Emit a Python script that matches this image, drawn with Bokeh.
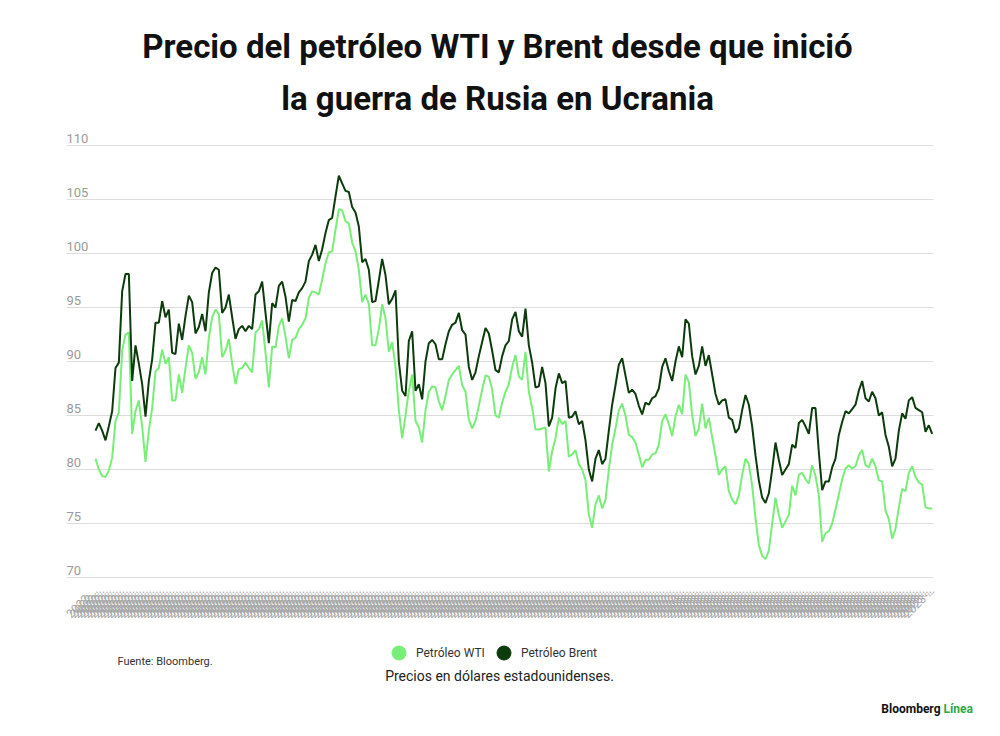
from math import pi

from bokeh.plotting import figure
from bokeh.models import Range1d, Label, Legend, LegendItem
from bokeh.core.properties import value
from bokeh.embed import file_html
from bokeh.resources import INLINE

# precios diarios (USD por barril)
brent = [83.6, 84.3, 83.6, 82.7, 84.0, 85.4, 89.4, 89.9, 96.5, 98.1, 98.1, 88.2, 91.5, 89.8, 87.9,
         84.9, 88.2, 90.2, 93.6, 93.6, 95.6, 94.1, 94.8, 90.8, 90.7, 93.5, 92.0, 94.2, 96.1, 95.5,
         92.6, 93.2, 94.4, 92.8, 96.4, 98.2, 98.7, 98.5, 94.5, 95.0, 96.2, 94.1, 92.1,
         93.0, 93.3, 92.8, 93.3, 93.0, 96.2, 96.5, 97.4, 94.5, 91.7, 95.4, 95.0, 97.0, 97.4, 96.0,
         93.7, 95.7, 95.6, 96.4, 96.8, 97.4, 99.3, 99.9, 100.8, 99.3, 100.4, 101.9, 103.1, 103.3,
         105.3, 107.2,
         106.5, 105.8, 105.7, 104.3, 103.8, 102.5, 99.2, 99.5, 98.5, 95.5, 95.6, 97.5, 99.5, 98.0,
         95.3, 95.8, 96.6, 90.0, 87.3, 86.8, 91.9, 92.8, 87.3, 87.9, 86.5, 90.0, 91.7, 92.0, 91.6,
         90.2, 90.2, 91.6, 92.8, 93.4, 93.6, 94.5, 92.9, 92.5, 89.5, 88.3, 89.0, 90.5, 91.8, 93.1,
         92.6, 91.0, 89.2, 89.0, 90.5, 91.5, 91.9, 93.9, 94.6,
         92.8, 92.3, 94.9, 91.5, 89.9, 87.6, 87.7, 89.5, 88.0, 84.0, 84.8, 87.5, 88.9, 88.0, 88.2,
         84.8, 84.9, 85.4, 84.2, 84.5, 82.7, 80.0, 78.9, 81.0, 81.8, 80.5, 81.0, 83.6, 86.0, 87.8,
         89.7, 90.3, 88.7, 87.1, 87.4, 87.0, 85.9, 85.1, 86.2, 86.0,
         86.6, 86.8, 87.5, 89.5, 90.3, 89.1, 88.2, 90.0, 91.4, 90.4, 93.9, 93.5, 90.5, 88.8, 89.6,
         91.4, 89.6, 90.6, 88.8, 87.0, 86.0, 86.4, 86.5, 84.8, 84.6, 83.4, 83.8, 85.5, 86.9, 86.0,
         84.0, 81.3, 79.0, 77.4, 76.9, 77.8, 80.0, 82.5, 80.9, 79.5, 80.0, 80.5,
         82.3, 82.0, 84.3, 84.6, 84.0, 83.3, 85.7, 85.7, 81.6, 78.1, 78.9, 78.9, 80.2, 81.0, 83.2,
         84.4, 85.4, 85.2, 85.6, 86.0, 87.3, 88.2, 86.6, 86.3, 87.2, 86.6, 85.0, 85.3, 83.2, 82.1,
         80.3, 81.0, 83.6, 85.2, 84.7, 86.4, 86.7, 85.7, 85.5, 85.3, 83.5, 84.1, 83.3]

wti = [81.0, 80.0, 79.4, 79.3, 79.9, 81.1, 84.5, 85.3, 91.0, 92.5, 92.7, 83.3, 85.4, 86.4, 84.0,
       80.7, 83.6, 85.7, 89.1, 89.4, 91.1, 89.8, 90.4, 86.4, 86.4, 88.8, 87.1, 89.4, 91.5, 90.8,
       88.4, 89.0, 90.4, 88.8, 92.2, 94.1, 94.8, 94.4, 90.4, 91.0, 92.1, 89.8, 87.9,
       89.3, 89.4, 89.9, 89.4, 89.0, 92.7, 93.0, 93.8, 90.8, 87.6, 91.4, 91.3, 93.3, 94.0, 92.3,
       90.3, 92.0, 92.2, 93.0, 93.4, 94.0, 95.9, 96.5, 96.4, 96.2, 97.6, 99.1, 100.1, 100.2,
       102.2, 104.1,
       104.0, 103.0, 102.8, 101.0, 100.2, 98.5, 95.5, 96.2, 95.3, 91.5, 91.5, 93.0, 95.3, 94.0,
       90.9, 91.8, 89.5, 85.5, 82.9, 85.0, 87.3, 88.8, 84.5, 83.9, 82.5, 85.5, 87.2, 87.7, 87.6,
       86.3, 85.5, 86.8, 88.3, 88.8, 89.2, 89.6, 87.8, 87.2, 84.6, 83.8, 84.5, 85.9, 87.4, 88.7,
       88.6, 87.4, 85.0, 84.8, 86.2, 87.2, 87.9, 89.5, 90.6,
       88.6, 88.3, 90.9, 87.2, 85.7, 83.7, 83.7, 83.8, 83.9, 79.8, 81.7, 82.9, 84.8, 84.2, 84.5,
       81.2, 81.4, 81.8, 80.5, 80.0, 79.0, 75.8, 74.6, 76.8, 77.6, 76.4, 77.2, 80.0, 82.3, 83.8,
       85.5, 86.1, 85.0, 83.2, 83.0, 82.5, 81.4, 80.2, 80.9, 80.9,
       81.4, 81.5, 82.3, 84.5, 85.1, 84.2, 83.1, 84.9, 86.0, 85.1, 88.8, 88.1, 85.0, 83.1, 83.8,
       86.1, 83.8, 84.8, 83.0, 81.3, 79.5, 80.0, 80.3, 78.0, 77.2, 76.8, 77.6, 79.5, 81.0, 80.5,
       78.5, 75.5, 73.0, 72.0, 71.7, 72.5, 75.0, 77.4, 75.8, 74.6, 75.2, 75.8,
       78.5, 77.6, 79.5, 79.7, 79.1, 78.7, 80.4, 79.4, 77.6, 73.3, 74.1, 74.3, 75.0, 76.3, 77.7,
       79.1, 80.1, 80.4, 80.1, 80.3, 81.3, 81.8, 80.4, 80.2, 81.0, 80.3, 79.0, 78.9, 76.2, 75.4,
       73.6, 74.5, 76.5, 78.2, 78.0, 79.7, 80.3, 79.3, 78.8, 78.6, 76.5, 76.4, 76.4]

# etiquetas del eje x (fechas truncadas)
x_labels = ["2022-…"] * 177 + ["2023-…"] * 75
y_ticks = [70, 75, 80, 85, 90, 95, 100, 105, 110]
y_labels = [str(t) for t in y_ticks]

n = len(brent)
days = list(range(n))

W, H = 984, 720
# el area de dibujo cubre todo el lienzo; la zona del grafico va de x=66 a x=933 px
grid_left, grid_right = -8.7, n - 1 + 0.4
label_y = 68.95  # altura de las etiquetas de fecha, debajo de la linea de 70

p = figure(width=W, height=H, output_backend="svg", toolbar_location=None, tools="",
           x_range=Range1d(-28.5, 266.7), y_range=Range1d(56.76, 123.43),
           x_axis_location=None, y_axis_location=None, min_border=0)
p.outline_line_color = None
p.grid.visible = False

# lineas horizontales de la grilla
p.segment(x0=[grid_left] * len(y_ticks), y0=y_ticks, x1=[grid_right] * len(y_ticks), y1=y_ticks,
          line_color="#dcdcdc", line_width=1)

# etiquetas del eje y, encima de cada linea
p.text(x=[grid_left] * len(y_ticks), y=y_ticks, text=y_labels, text_font=value("Roboto"),
       text_font_size="13px", text_color="#9b9b9b", text_align="left", text_baseline="bottom",
       y_offset=-3)

# etiquetas del eje x, una por dia, giradas
p.text(x=days, y=[label_y] * n, text=x_labels, text_font=value("Roboto"),
       text_font_size="12px", text_color="#a6a6a6", text_align="right", text_baseline="middle",
       angle=pi / 4)

wti_color = "#78ee78"
brent_color = "#0c3b0c"
p.line(days, wti, line_color=wti_color, line_width=2)
p.line(days, brent, line_color=brent_color, line_width=2)

# leyenda con circulos (marcadores sin punto visible, solo para la leyenda)
nan = float("nan")
r_wti = p.scatter([nan], [nan], marker="circle", size=14, color=wti_color)
r_brent = p.scatter([nan], [nan], marker="circle", size=14, color=brent_color)
for r, name, loc in [(r_wti, "Petróleo WTI", (381, 50)), (r_brent, "Petróleo Brent", (486, 50))]:
    leg = Legend(items=[LegendItem(label=name, renderers=[r], index=0)], location=loc,
                 glyph_width=35, glyph_height=35, label_standoff=0, padding=0, margin=0,
                 border_line_color=None, background_fill_alpha=0,
                 label_text_font="Roboto", label_text_font_size="12px", label_text_color="#333333")
    p.add_layout(leg)


def add_text(x, y, text, size, align="left", bold=False, color="#222222"):
    # x, y en pixeles desde la esquina superior izquierda
    p.add_layout(Label(x=x, y=H - y, x_units="screen", y_units="screen", text=text,
                       text_align=align, text_baseline="middle", text_font="Roboto",
                       text_font_style="bold" if bold else "normal", text_font_size=size,
                       text_color=color))


add_text(497, 46, "Precio del petróleo WTI y Brent desde que inició", "33px", "center", True, "#111111")
add_text(497, 98, "la guerra de Rusia en Ucrania", "33px", "center", True, "#111111")
add_text(117, 661, "Fuente: Bloomberg.", "11px", color="#333333")
add_text(499, 675, "Precios en dólares estadounidenses.", "14px", "center", color="#222222")
add_text(940, 708, "Bloomberg", "12px", "right", True, "#111111")
add_text(943, 708, "Línea", "12px", "left", True, "#2fa845")

open("out.html", "w").write(file_html(p, INLINE))
